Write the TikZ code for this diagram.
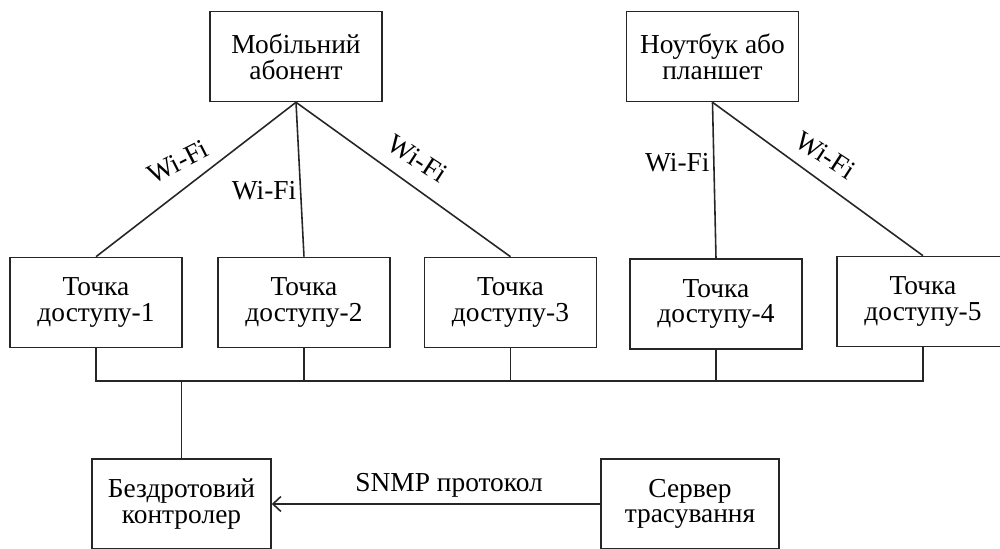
\documentclass[tikz,border=0pt]{standalone}
\usepackage{fontspec}
\setmainfont{Liberation Serif}
\usepackage{tikz}
\usetikzlibrary{arrows.meta, positioning}
\tikzstyle{box} = [
    rectangle,
    draw=black!85,
    line width=0.9pt,
    minimum width=3.44cm,
    minimum height=1.8cm,
    align=center,
    inner sep=1pt
]
\tikzstyle{link} = [
    line width=0.9pt,
    draw=black!85
]
\tikzstyle{arrow} = [
    link,
    -{Straight Barb[length=1.6mm,width=3mm]}
]
\tikzstyle{wifi} = [
    inner sep=2pt
]

\begin{document}
\begin{tikzpicture}[font=\fontsize{15.6}{14.6}\selectfont]
\useasboundingbox (0,0) rectangle (20,10.96);

% Clients
\node[box] (mob) at (5.92,9.83) {Мобільний\\абонент};
\node[box] (lap) at (14.25,9.83) {Ноутбук або\\планшет};

% Access points
\node[box] (ap1) at (1.92,4.91) {Точка\\доступу-1};
\node[box] (ap2) at (6.08,4.91) {Точка\\доступу-2};
\node[box] (ap3) at (10.21,4.91) {Точка\\доступу-3};
\node[box] (ap4) at (14.32,4.88) {Точка\\доступу-4};
\node[box] (ap5) at (18.46,4.93) {Точка\\доступу-5};

% Controller and server
\node[box, minimum width=3.58cm] (ctrl) at (3.63,0.88) {Бездротовий\\контролер};
\node[box, minimum width=3.56cm] (srv) at (13.8,0.88) {Сервер\\трасування};

% Wi-Fi links
\draw[link] (ap1.north) -- node[wifi, pos=0.615, xshift=-0.82cm, rotate=27] {Wi-Fi} (mob.south);
\draw[link] (mob.south) -- node[wifi, left, pos=0.57] {Wi-Fi} (ap2.north);
\draw[link] (mob.south) -- node[wifi, pos=0.365, xshift=0.86cm, rotate=-33] {Wi-Fi} (ap3.north);
\draw[link] (lap.south) -- node[wifi, left, pos=0.39] {Wi-Fi} (ap4.north);
\draw[link] (lap.south) -- node[wifi, pos=0.346, xshift=0.8cm, rotate=-33] {Wi-Fi} (ap5.north);

% Wired bus
\coordinate (bus) at (0,3.34);
\draw[link] (ap1.south) -- (ap1.south |- bus) -- (ap5.south |- bus) -- (ap5.south);
\foreach \n in {ap2,ap3,ap4}
    \draw[link] (\n.south) -- (\n.south |- bus);
\draw[link] (ctrl.north) -- (ctrl.north |- bus);

% SNMP
\draw[arrow] (srv.west) -- node[above, pos=0.46] {SNMP протокол} (ctrl.east);
\end{tikzpicture}
\end{document}
